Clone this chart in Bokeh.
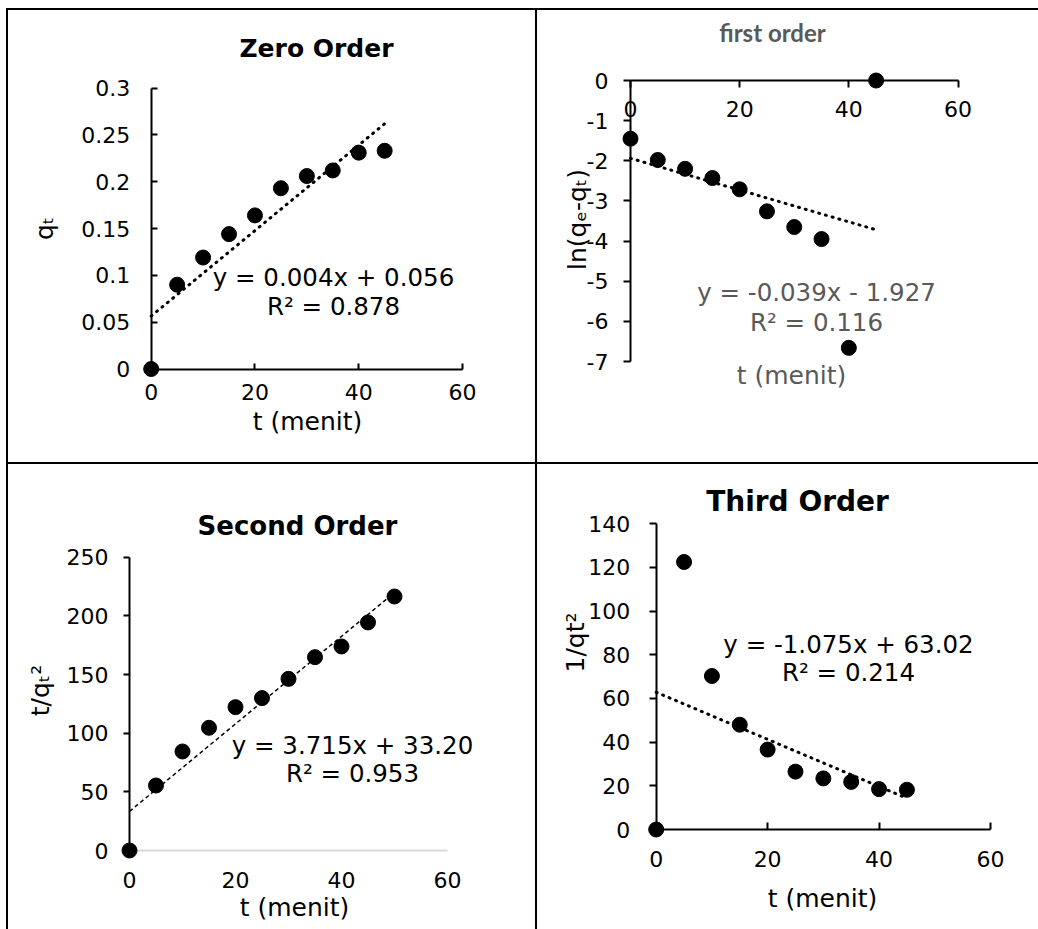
import numpy as np
from math import pi
from bokeh.plotting import figure
from bokeh.models import Range1d, LinearAxis, FixedTicker, Label, Spacer
from bokeh.layouts import row, column
from bokeh.embed import file_html
from bokeh.resources import INLINE

# ---------------- data ----------------
t_zero = [0, 5, 10, 15, 20, 25, 30, 35, 40, 45]
qt_zero = [0, 0.090, 0.119, 0.144, 0.164, 0.193, 0.206, 0.212, 0.231, 0.233]

t_first = [0, 5, 10, 15, 20, 25, 30, 35, 40, 45]
ln_first = [-1.45, -1.98, -2.20, -2.43, -2.71, -3.26, -3.65, -3.95, -6.66, 0.0]

t_second = [0, 5, 10, 15, 20, 25, 30, 35, 40, 45, 50]
tq2_second = [0, 55.4, 84.4, 104.6, 122.2, 129.9, 146.3, 164.8, 173.9, 194.4, 216.5]

t_third = [0, 5, 10, 15, 20, 25, 30, 35, 40, 45]
inv_third = [0, 122.5, 70.3, 48.0, 36.6, 26.5, 23.4, 21.8, 18.5, 18.2]

x_ticks = [0, 20, 40, 60]
x_labels = ["0", "20", "40", "60"]
y_ticks_zero = [0, 0.05, 0.1, 0.15, 0.2, 0.25, 0.3]
y_labels_zero = ["0", "0.05", "0.1", "0.15", "0.2", "0.25", "0.3"]
y_ticks_first = [0, -1, -2, -3, -4, -5, -6, -7]
y_labels_first = ["0", "-1", "-2", "-3", "-4", "-5", "-6", "-7"]
y_ticks_second = [0, 50, 100, 150, 200, 250]
y_labels_second = ["0", "50", "100", "150", "200", "250"]
y_ticks_third = [0, 20, 40, 60, 80, 100, 120, 140]
y_labels_third = ["0", "20", "40", "60", "80", "100", "120", "140"]

titles = ["Zero Order", "first order", "Second Order", "Third Order"]
eq_texts = ["y = 0.004x + 0.056", "y = -0.039x - 1.927", "y = 3.715x + 33.20", "y = -1.075x + 63.02"]
r2_texts = ["R\u00b2 = 0.878", "R\u00b2 = 0.116", "R\u00b2 = 0.953", "R\u00b2 = 0.214"]
x_titles = ["t (menit)", "t (menit)", "t (menit)", "t (menit)"]
y_titles = ["q\u209c", "ln(q\u2091-q\u209c)", "t/q\u209c\u00b2", "1/qt\u00b2"]

FONT = "DejaVu Sans"
GRAY = "#595959"
TICK_SIZE = "22px"
AX_SIZE = "25px"
EQ_SIZE = "24.5px"
MARKER = 15


def geometry(fx, fy, fw, fh, xa, xb, ya, yb):
    """Ranges so that data values land at given page pixels (frame == canvas)."""
    sx = (xb[1] - xa[1]) / (xb[0] - xa[0])
    x0 = xa[0] - (xa[1] - fx) / sx
    x1 = x0 + fw / sx
    sy = (ya[1] - yb[1]) / (yb[0] - ya[0])
    y1 = yb[0] + (yb[1] - fy) / sy
    y0 = y1 - fh / sy

    def to_data(px, py):
        return x0 + (px - fx) / sx, y1 - (py - fy) / sy
    return (x0, x1), (y0, y1), to_data


def make_fig(w, h, xr, yr):
    p = figure(width=w, height=h, x_range=Range1d(*xr), y_range=Range1d(*yr),
               output_backend="svg", toolbar_location=None, min_border=0,
               x_axis_location=None, y_axis_location=None)
    p.outline_line_color = None
    p.background_fill_color = "white"
    p.border_fill_color = "white"
    p.grid.grid_line_color = None
    p.grid.visible = False
    return p


def add_axis(p, side, fixed, bounds, ticks, labels, tin, tout, standoff,
             line_color="black", line_width=2):
    ax = LinearAxis(fixed_location=fixed, bounds=bounds,
                    ticker=FixedTicker(ticks=ticks),
                    axis_line_color=line_color, axis_line_width=line_width,
                    major_tick_line_color=line_color, major_tick_line_width=2,
                    major_tick_in=tin, major_tick_out=tout,
                    minor_tick_line_color=None,
                    major_label_text_font=FONT, major_label_text_font_size=TICK_SIZE,
                    major_label_text_color="black",
                    major_label_standoff=standoff)
    ax.major_label_overrides = {k: v for k, v in zip(ticks, labels)}
    p.add_layout(ax, side)
    return ax


def add_text(p, to_data, px, py, text, size, color="black", font=FONT,
             style="normal", angle=0.0):
    x, y = to_data(px, py)
    p.add_layout(Label(x=x, y=y, text=text, text_font=font,
                       text_font_size=size, text_font_style=style,
                       text_color=color, text_align="center",
                       text_baseline="middle", angle=angle))


def trend(p, t, y, dash, width, cap):
    c = np.polyfit(t, y, 1)
    xs = np.array([min(t), max(t)], dtype=float)
    p.line(xs, np.polyval(c, xs), line_color="black", line_width=width,
           line_dash=dash, line_cap=cap)


W1, W2 = 527, 501
H1, H2 = 452, 465
X1, X2 = 8, 537
Y1, Y2 = 10, 464

# ---------- Panel 1: Zero order ----------
xr, yr, td = geometry(X1, Y1, W1, H1, (0, 150.7), (60, 462), (0, 368.5), (0.3, 87.5))
p1 = make_fig(W1, H1, xr, yr)
add_axis(p1, "below", 0, (0, 60), x_ticks, x_labels, 6, 0, 15)
add_axis(p1, "left", 0, (0, 0.3), y_ticks_zero, y_labels_zero, 6, 0, 21)
trend(p1, t_zero, qt_zero, "1 6", 3, "round")
p1.scatter(t_zero, qt_zero, size=MARKER, color="black", level="overlay")
add_text(p1, td, 316, 48, titles[0], "25px", style="bold")
add_text(p1, td, 333, 277, eq_texts[0], EQ_SIZE)
add_text(p1, td, 333, 306, r2_texts[0], EQ_SIZE)
add_text(p1, td, 307, 421, x_titles[0], AX_SIZE)
add_text(p1, td, 44, 228, y_titles[0], AX_SIZE, angle=pi / 2)

# ---------- Panel 2: first order ----------
xr, yr, td = geometry(X2, Y1, W2, H1, (0, 630), (60, 957.5), (-7, 361), (0, 80))
p2 = make_fig(W2, H1, xr, yr)
add_axis(p2, "below", 0, (0, 60), x_ticks, x_labels, 0, 7, 13)
add_axis(p2, "left", 0, (-7, 0), y_ticks_first, y_labels_first, 0, 7, 15)
trend(p2, t_first, ln_first, "1 6", 3, "round")
p2.scatter(t_first, ln_first, size=MARKER, color="black", level="overlay")
add_text(p2, td, 772, 32, titles[1], "24px", color=GRAY, font="Lato", style="bold")
add_text(p2, td, 816, 292, eq_texts[1], EQ_SIZE, color=GRAY)
add_text(p2, td, 816, 321.5, r2_texts[1], EQ_SIZE, color=GRAY)
add_text(p2, td, 791, 375, x_titles[1], AX_SIZE, color=GRAY)
add_text(p2, td, 577, 219, y_titles[1], AX_SIZE, angle=pi / 2)

# ---------- Panel 3: Second order ----------
xr, yr, td = geometry(X1, Y2, W1, H2, (0, 129), (60, 447), (0, 850), (250, 556.7))
p3 = make_fig(W1, H2, xr, yr)
add_axis(p3, "below", 0, (0, 60), x_ticks, x_labels, 0, 0, 21,
         line_color="#D9D9D9", line_width=2)
add_axis(p3, "left", 0, (0, 250), y_ticks_second, y_labels_second, 0, 6, 15)
trend(p3, t_second, tq2_second, "4 3", 1.5, "butt")
p3.scatter(t_second, tq2_second, size=MARKER, color="black", level="overlay")
add_text(p3, td, 297, 525, titles[2], "26px", style="bold")
add_text(p3, td, 352, 745, eq_texts[2], EQ_SIZE)
add_text(p3, td, 352, 773, r2_texts[2], EQ_SIZE)
add_text(p3, td, 294, 907, x_titles[2], AX_SIZE)
add_text(p3, td, 40, 690, y_titles[2], AX_SIZE, angle=pi / 2)

# ---------- Panel 4: Third order ----------
xr, yr, td = geometry(X2, Y2, W2, H2, (0, 655.7), (60, 990), (0, 829), (140, 523.3))
p4 = make_fig(W2, H2, xr, yr)
add_axis(p4, "below", 0, (0, 60), x_ticks, x_labels, 7, 0, 21)
add_axis(p4, "left", 0, (0, 140), y_ticks_third, y_labels_third, 0, 7, 19)
trend(p4, t_third, inv_third, "1 6", 3, "round")
p4.scatter(t_third, inv_third, size=MARKER, color="black", level="overlay")
add_text(p4, td, 797, 501, titles[3], "28px", style="bold")
add_text(p4, td, 848, 644, eq_texts[3], EQ_SIZE)
add_text(p4, td, 848, 672, r2_texts[3], EQ_SIZE)
add_text(p4, td, 822, 898, x_titles[3], AX_SIZE)
add_text(p4, td, 575, 642, y_titles[3], AX_SIZE, angle=pi / 2)


def gap(w=1, h=1):
    return Spacer(width=w, height=h)


def vline(h):
    return Spacer(width=2, height=h, styles={"background-color": "black"})


def hline(w):
    return Spacer(width=w, height=2, styles={"background-color": "black"})


layout = column(gap(1038, 8),
                row(gap(6, 2), hline(1032)),
                row(gap(6, H1), vline(H1), p1, vline(H1), p2),
                row(gap(6, 2), hline(1032)),
                row(gap(6, H2), vline(H2), p3, vline(H2), p4))

open("out.html", "w").write(file_html(layout, INLINE))
